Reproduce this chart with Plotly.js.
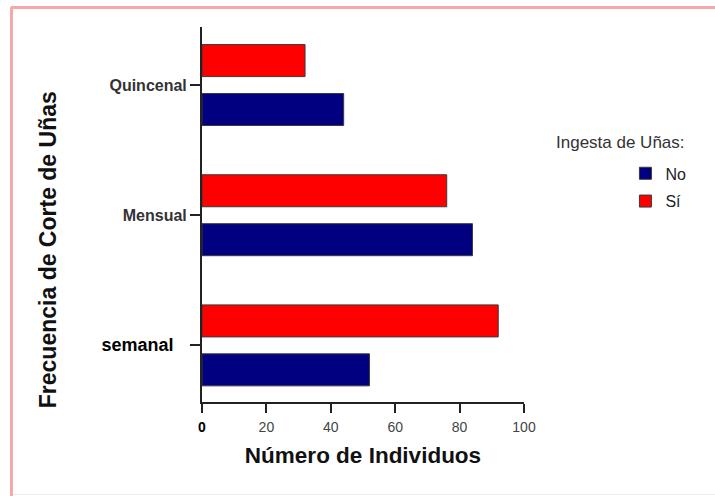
<!DOCTYPE html>
<html>
<head>
<meta charset="utf-8">
<script src="https://cdn.plot.ly/plotly-3.0.1.min.js"></script>
<style>
  html, body { margin: 0; padding: 0; background: #ffffff; overflow: hidden; width: 715px; height: 496px; }
  #chart { position: absolute; left: 0; top: 0; width: 715px; height: 496px; }
  #frameTop { position: absolute; left: 10px; top: 6px; width: 705px; height: 3px;
              background: #f7a9a9; border-top-left-radius: 4px; pointer-events: none; }
  #frameLeft { position: absolute; left: 10px; top: 6px; width: 3px; height: 490px;
               background: #f7a9a9; border-top-left-radius: 4px; pointer-events: none; }
  #frameBottom { position: absolute; left: 13px; top: 494px; width: 702px; height: 1px;
                 background: #ececec; pointer-events: none; }
</style>
</head>
<body>
<div id="chart"></div>
<div id="frameTop"></div>
<div id="frameLeft"></div>
<div id="frameBottom"></div>
<script>
// Data
const categories = ['semanal', 'Mensual', 'Quincenal'];
const valuesNo = [52, 84, 44];
const valuesSi = [92, 76, 32];
const seriesNames = ['No', 'Sí'];
const categoryLabels = [
  '<span style="font-size:18px;color:#000">semanal</span>\u00a0\u00a0\u00a0',
  'Mensual',
  'Quincenal'
];
const xTickVals = [0, 20, 40, 60, 80, 100];
const xTickText = ['<b style="color:#000">0</b>', '20', '40', '60', '80', '100'];

const traceNo = {
  type: 'bar', orientation: 'h', name: seriesNames[0], legendgroup: 'a',
  y: categories, x: valuesNo,
  width: 0.246, offset: -0.311,
  marker: { color: '#000080', line: { color: '#3a3a3a', width: 1 } },
  hoverinfo: 'x+y+name'
};
const traceSi = {
  type: 'bar', orientation: 'h', name: seriesNames[1], legendgroup: 'b',
  y: categories, x: valuesSi,
  width: 0.246, offset: 0.065,
  marker: { color: '#ff0000', line: { color: '#3a3a3a', width: 1 } },
  hoverinfo: 'x+y+name'
};

const layout = {
  width: 715, height: 496,
  margin: { l: 202, r: 191, t: 27, b: 94 },
  paper_bgcolor: '#ffffff', plot_bgcolor: '#ffffff',
  barmode: 'overlay',
  font: { family: 'Liberation Sans, Arial, sans-serif', color: '#333' },
  xaxis: {
    range: [0, 100], tickmode: 'array', tickvals: xTickVals, ticktext: xTickText,
    showgrid: false, zeroline: false,
    showline: true, linecolor: '#222', linewidth: 2,
    ticks: 'outside', ticklen: 9, tickwidth: 2, tickcolor: '#222',
    ticklabelstandoff: 2,
    tickfont: { size: 14, color: '#444' },
    title: { text: 'Número de Individuos', standoff: 13,
             font: { size: 22.5, color: '#111', weight: 'bold' } },
    fixedrange: true
  },
  yaxis: {
    type: 'category', categoryorder: 'array', categoryarray: categories,
    range: [-0.435, 2.446],
    tickmode: 'array', tickvals: categories, ticktext: categoryLabels,
    showgrid: false, zeroline: false,
    showline: true, linecolor: '#222', linewidth: 2,
    ticks: 'outside', ticklen: 10, tickwidth: 2, tickcolor: '#222',
    tickfont: { size: 16, color: '#333', weight: 'bold' },
    fixedrange: true
  },
  showlegend: true,
  legend: {
    x: 1.315, xanchor: 'left', y: 0.655, yanchor: 'top',
    traceorder: 'grouped', tracegroupgap: 4,
    font: { size: 16, color: '#222' },
    bgcolor: 'rgba(0,0,0,0)', borderwidth: 0
  },
  annotations: [
    {
      text: 'Frecuencia de Corte de Uñas', textangle: -90,
      xref: 'paper', yref: 'paper', x: -0.478, y: 0.405,
      xanchor: 'center', yanchor: 'middle', showarrow: false,
      font: { size: 23, color: '#111', weight: 'bold' }
    },
    {
      text: 'Ingesta de Uñas:',
      xref: 'paper', yref: 'paper', x: 1.3, y: 0.693,
      xanchor: 'center', yanchor: 'middle', showarrow: false,
      font: { size: 17, color: '#333' }
    }
  ]
};

Plotly.newPlot('chart', [traceNo, traceSi], layout, { displayModeBar: false });
</script>
</body>
</html>
